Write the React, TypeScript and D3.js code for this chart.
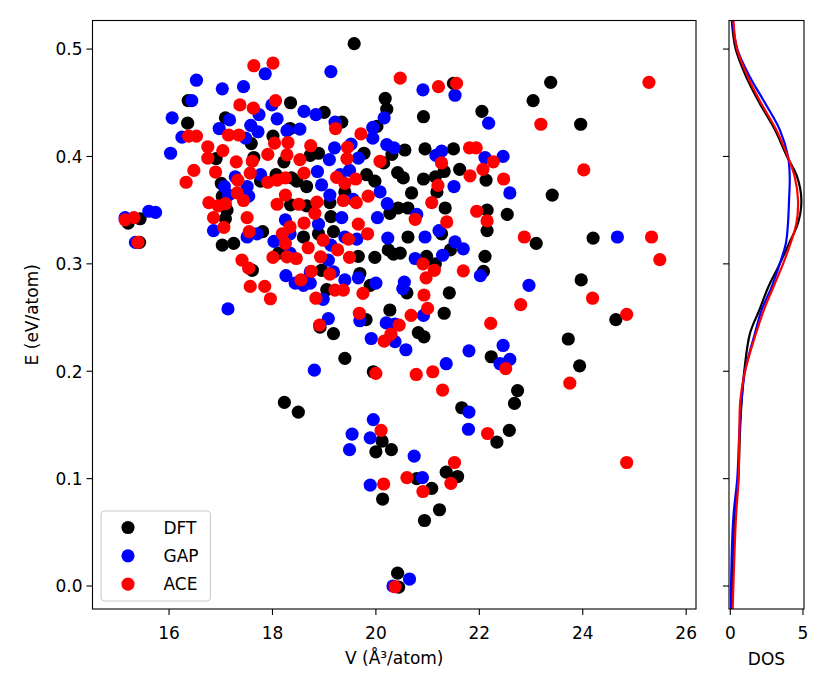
import React from 'react'
import * as d3 from 'd3'

// [V (Å^3/atom), E (eV/atom)]
const dftPoints: [number, number][] = [
  [18.35,0.450],[16.37,0.452],[16.36,0.431],[17.09,0.436],[17.59,0.412],[18.01,0.419],[16.91,0.398],[17.64,0.399],
  [18.22,0.395],[18.07,0.383],[17.01,0.375],[17.77,0.377],[17.03,0.363],[17.12,0.350],[18.35,0.355],[15.44,0.342],
  [15.21,0.338],[15.43,0.320],[17.09,0.342],[17.81,0.330],[17.03,0.3175],[17.25,0.319],[18.12,0.310],[17.61,0.294],
  [19.58,0.505],[21.50,0.468],[20.18,0.454],[20.21,0.444],[22.05,0.442],[19.00,0.441],[20.92,0.437],[19.34,0.432],
  [18.34,0.426],[20.02,0.428],[20.56,0.406],[20.95,0.407],[21.50,0.407],[22.13,0.378],[21.32,0.386],[21.62,0.388],
  [18.89,0.403],[18.73,0.401],[19.77,0.403],[20.15,0.394],[20.31,0.402],[18.37,0.380],[18.47,0.377],[18.66,0.372],
  [19.82,0.383],[19.98,0.377],[20.42,0.385],[20.53,0.380],[20.92,0.379],[21.15,0.381],[21.18,0.367],[20.69,0.366],
  [19.40,0.367],[20.43,0.352],[20.62,0.352],[21.34,0.352],[22.15,0.350],[18.66,0.354],[19.11,0.357],[19.13,0.344],
  [20.27,0.347],[22.15,0.331],[18.60,0.325],[18.89,0.328],[19.18,0.330],[20.62,0.325],[21.27,0.328],[19.66,0.307],
  [19.98,0.306],[20.24,0.313],[20.47,0.310],[20.34,0.309],[20.98,0.307],[21.44,0.313],[22.11,0.307],[21.15,0.300],
  [22.08,0.293],[18.95,0.294],[19.69,0.291],[19.89,0.280],[20.60,0.273],[19.05,0.276],[21.42,0.273],[21.32,0.254],
  [20.27,0.257],[19.81,0.248],[18.92,0.241],[19.18,0.235],[20.82,0.236],[20.93,0.232],[19.40,0.212],[19.95,0.1995],
  [23.38,0.469],[23.04,0.452],[23.96,0.430],[23.41,0.364],[22.54,0.346],[23.10,0.319],[24.20,0.324],[23.97,0.285],
  [24.64,0.248],[23.72,0.230],[22.23,0.2135],[23.94,0.205],
  [18.23,0.171],[18.50,0.162],[20.12,0.135],[20.00,0.125],[20.30,0.127],[20.13,0.081],[22.74,0.182],[22.68,0.170],
  [21.66,0.166],[22.34,0.134],[22.58,0.145],[21.36,0.106],[21.58,0.102],[20.79,0.100],[21.08,0.091],[21.23,0.071],
  [20.94,0.061],[20.42,0.012],[20.44,-0.001],
]

const gapPoints: [number, number][] = [
  [17.86,0.477],[16.53,0.471],[17.03,0.463],[17.44,0.465],[16.44,0.452],[17.99,0.448],[17.74,0.439],[16.06,0.436],
  [18.09,0.435],[17.17,0.434],[16.97,0.426],[17.58,0.429],[17.72,0.423],[18.28,0.424],[16.25,0.418],[17.48,0.417],
  [16.03,0.403],[17.77,0.383],[17.28,0.381],[17.07,0.372],[17.51,0.372],[17.54,0.363],[17.15,0.364],[15.61,0.349],
  [15.74,0.348],[15.15,0.343],[18.25,0.341],[15.35,0.320],[16.86,0.331],[17.51,0.325],[17.70,0.328],[18.03,0.321],
  [18.26,0.289],[17.14,0.258],
  [19.13,0.479],[20.91,0.462],[21.53,0.457],[18.61,0.442],[18.84,0.439],[20.16,0.436],[22.18,0.431],[19.21,0.432],
  [18.53,0.4255],[19.94,0.427],[19.94,0.417],[19.20,0.408],[19.52,0.4115],[20.21,0.411],[20.35,0.408],[21.27,0.405],
  [21.16,0.401],[22.11,0.399],[19.10,0.397],[19.66,0.3985],[18.87,0.386],[18.95,0.3735],[19.31,0.383],[19.49,0.387],
  [21.51,0.372],[19.11,0.364],[19.56,0.360],[20.08,0.367],[20.22,0.356],[20.79,0.346],[19.34,0.343],
  [22.46,0.400],[22.59,0.366],
  [20.03,0.343],[18.89,0.337],[18.34,0.328],[19.40,0.325],[19.63,0.323],[20.23,0.324],[20.95,0.325],[21.22,0.331],
  [19.13,0.3175],[20.76,0.305],[21.29,0.308],[21.53,0.3205],[21.69,0.314],[18.34,0.310],[19.08,0.3035],[22.02,0.289],
  [18.73,0.2925],[19.18,0.2925],[19.66,0.287],[18.44,0.282],[18.60,0.280],[18.73,0.282],[19.40,0.285],[20.00,0.282],
  [20.55,0.283],[20.52,0.277],[18.98,0.267],[20.92,0.252],[19.69,0.247],[19.08,0.249],[20.20,0.245],[20.37,0.244],
  [20.37,0.2275],[19.91,0.2305],[20.58,0.220],[21.80,0.219],[18.81,0.201],[21.36,0.207],
  [24.67,0.325],[22.96,0.280],[22.46,0.224],[22.59,0.211],[22.40,0.207],
  [19.95,0.155],[19.54,0.1415],[19.89,0.138],[19.49,0.127],[19.89,0.094],[21.80,0.162],[21.79,0.146],[20.74,0.121],
  [20.90,0.101],[20.65,0.0065],[20.33,0.0],
]

const acePoints: [number, number][] = [
  [17.64,0.4845],[18.01,0.487],[17.37,0.448],[17.63,0.445],[18.06,0.452],[17.15,0.420],[17.35,0.420],[16.38,0.419],
  [16.53,0.419],[18.04,0.4125],[18.30,0.413],[16.75,0.409],[17.04,0.4055],[17.91,0.402],[18.28,0.4015],[16.75,0.3985],
  [17.30,0.395],[17.61,0.3955],[16.48,0.387],[16.90,0.3855],[17.57,0.3845],[18.25,0.380],[17.33,0.378],[16.33,0.376],
  [17.91,0.376],[18.09,0.378],[17.32,0.366],[17.44,0.359],[16.77,0.357],[16.95,0.354],[17.09,0.356],[18.09,0.3555],
  [18.25,0.364],[15.32,0.343],[16.86,0.343],[17.51,0.343],[15.15,0.341],[15.40,0.320],[17.06,0.334],[17.55,0.330],
  [18.19,0.328],[18.25,0.319],[18.01,0.306],[18.28,0.3065],[17.41,0.3035],[17.54,0.296],[17.57,0.279],[17.85,0.279],
  [17.96,0.2675],
  [20.47,0.473],[21.21,0.465],[21.56,0.468],[19.22,0.426],[19.71,0.421],[18.74,0.410],[19.45,0.4085],[21.81,0.408],
  [21.94,0.408],[22.07,0.388],[21.27,0.394],[21.82,0.382],[19.44,0.398],[18.53,0.397],[20.08,0.3955],[18.61,0.3845],
  [19.24,0.3805],[19.40,0.375],[19.61,0.379],[21.20,0.373],[19.37,0.359],[19.62,0.357],[19.85,0.363],[21.08,0.357],
  [21.95,0.349],[18.51,0.3555],[18.86,0.3575],[18.82,0.347],
  [25.28,0.469],[23.19,0.430],[22.27,0.395],[22.47,0.379],[24.02,0.3875],
  [22.15,0.340],[19.66,0.337],[20.76,0.3415],[21.37,0.339],[18.61,0.338],[18.34,0.3345],[19.47,0.323],[19.84,0.328],
  [18.98,0.322],[18.69,0.315],[19.26,0.313],[19.49,0.306],[18.46,0.305],[18.93,0.3065],[20.91,0.300],[21.13,0.294],
  [21.69,0.2935],[20.97,0.287],[18.75,0.293],[19.11,0.2905],[18.55,0.285],[19.21,0.2755],[19.37,0.2755],[18.84,0.268],
  [19.75,0.2725],[20.93,0.271],[21.00,0.2585],[20.68,0.252],[19.68,0.254],[18.91,0.243],[20.45,0.243],[20.29,0.2345],
  [20.16,0.228],[20.00,0.198],[20.78,0.197],[21.10,0.1995],
  [22.87,0.325],[25.33,0.325],[25.49,0.304],[24.19,0.268],[22.80,0.262],[24.85,0.253],[22.22,0.2445],[22.51,0.2025],
  [23.75,0.189],
  [20.10,0.145],[20.15,0.095],[21.29,0.1825],[22.16,0.142],[21.52,0.115],[21.45,0.0956],[20.60,0.101],[20.91,0.088],
  [24.85,0.115],[20.37,-0.0007],
]

// density of states along E
const dosEnergy = [-0.022, 0.0, 0.064, 0.1, 0.142, 0.173, 0.2, 0.235, 0.257, 0.278, 0.3, 0.319, 0.338, 0.359, 0.381, 0.4, 0.425, 0.45, 0.474, 0.5, 0.527]
const dosDFT = [0.10, 0.14, 0.32, 0.55, 0.66, 0.78, 0.96, 1.35, 2.0, 2.6, 3.4, 4.04, 4.66, 4.89, 4.6, 3.9, 3.06, 2.0, 1.1, 0.37, 0.10]
const dosGAP = [0.05, 0.05, 0.21, 0.48, 0.62, 0.78, 1.01, 1.69, 2.15, 2.83, 3.4, 3.82, 3.97, 4.04, 4.09, 3.97, 3.4, 2.38, 1.35, 0.48, 0.14]
const dosACE = [0.16, 0.21, 0.39, 0.57, 0.62, 0.69, 1.01, 1.76, 2.31, 2.95, 3.63, 4.14, 4.55, 4.66, 4.43, 3.95, 3.15, 2.1, 1.21, 0.46, 0.21]

const xTicks = [16, 18, 20, 22, 24, 26]
const yTicks = [0.0, 0.1, 0.2, 0.3, 0.4, 0.5]
const dosTicks = [0, 5]

const series = [
  {name: 'DFT', color: '#000000', points: dftPoints, dos: dosDFT},
  {name: 'GAP', color: '#0000ff', points: gapPoints, dos: dosGAP},
  {name: 'ACE', color: '#ff0000', points: acePoints, dos: dosACE},
]

const W = 830, H = 692
const main = {left: 92.5, right: 696, top: 20.5, bottom: 609}
const side = {left: 729, right: 804}
const font = 'DejaVu Sans, sans-serif'
const fs = 17
const r = 6.6

export default function App() {
  const x = d3.scaleLinear().domain([14.52, 26.19]).range([main.left, main.right])
  const y = d3.scaleLinear().domain([-0.0214, 0.5266]).range([main.bottom, main.top])
  const xd = d3.scaleLinear().domain([-0.09, 5.07]).range([side.left, side.right])

  const dosLine = (vals: number[]) =>
    d3.line<number>()
      .x((d) => xd(d))
      .y((d, i) => y(dosEnergy[i]))
      .curve(d3.curveCatmullRom.alpha(0.5))(vals) || ''

  return (
    <svg width={W} height={H} style={{position: 'absolute', left: 0, top: 0, background: '#fff'}}
      fontFamily={font}>
      <defs>
        <clipPath id="sideclip">
          <rect x={side.left} y={main.top} width={side.right - side.left} height={main.bottom - main.top} />
        </clipPath>
      </defs>
      <rect x={0} y={0} width={W} height={H} fill="#fff" />

      {/* scatter */}
      {series.map((s) => (
        <g key={s.name} fill={s.color}>
          {s.points.map((p, i) => (
            <circle key={i} cx={x(p[0])} cy={y(p[1])} r={r} />
          ))}
        </g>
      ))}

      {/* main frame + ticks */}
      <rect x={main.left} y={main.top} width={main.right - main.left} height={main.bottom - main.top}
        fill="none" stroke="#000" strokeWidth={1.1} />
      {xTicks.map((t) => (
        <g key={t}>
          <line x1={x(t)} x2={x(t)} y1={main.bottom} y2={main.bottom + 6} stroke="#000" strokeWidth={1.1} />
          <text x={x(t)} y={main.bottom + 30} fontSize={fs} textAnchor="middle">{t}</text>
        </g>
      ))}
      {yTicks.map((t) => (
        <g key={t}>
          <line x1={main.left - 6} x2={main.left} y1={y(t)} y2={y(t)} stroke="#000" strokeWidth={1.1} />
          <text x={main.left - 10} y={y(t) + 6.3} fontSize={fs} textAnchor="end">{t.toFixed(1)}</text>
        </g>
      ))}
      <text x={(main.left + main.right) / 2} y={664} fontSize={fs} textAnchor="middle">V (Å³/atom)</text>
      <text transform={`translate(38,${(main.top + main.bottom) / 2}) rotate(-90)`} fontSize={fs}
        textAnchor="middle">E (eV/atom)</text>

      {/* legend */}
      <g>
        <rect x={101} y={511} width={109.5} height={90} rx={4} fill="#fff" fillOpacity={0.8}
          stroke="#cccccc" strokeWidth={1.1} />
        {series.map((s, i) => (
          <g key={s.name}>
            <circle cx={128} cy={527.5 + i * 28.3} r={r} fill={s.color} />
            <text x={163.5} y={527.5 + i * 28.3 + 6.3} fontSize={fs}>{s.name}</text>
          </g>
        ))}
      </g>

      {/* DOS panel */}
      <g clipPath="url(#sideclip)">
        {series.map((s) => (
          <path key={s.name} d={dosLine(s.dos)} fill="none" stroke={s.color} strokeWidth={2.2} />
        ))}
      </g>
      <rect x={side.left} y={main.top} width={side.right - side.left} height={main.bottom - main.top}
        fill="none" stroke="#000" strokeWidth={1.1} />
      {yTicks.map((t) => (
        <line key={t} x1={side.left - 6} x2={side.left} y1={y(t)} y2={y(t)} stroke="#000" strokeWidth={1.1} />
      ))}
      {dosTicks.map((t) => (
        <g key={t}>
          <line x1={xd(t)} x2={xd(t)} y1={main.bottom} y2={main.bottom + 6} stroke="#000" strokeWidth={1.1} />
          <text x={xd(t)} y={main.bottom + 30} fontSize={fs} textAnchor="middle">{t}</text>
        </g>
      ))}
      <text x={(side.left + side.right) / 2} y={665} fontSize={fs} textAnchor="middle">DOS</text>
    </svg>
  )
}
